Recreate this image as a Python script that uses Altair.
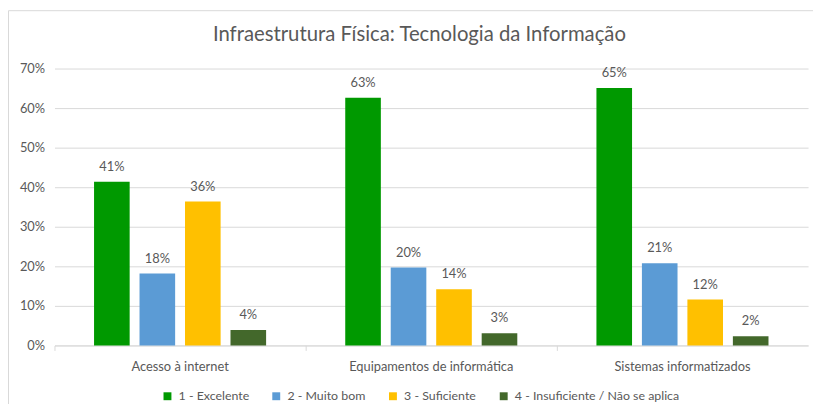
import altair as alt
import pandas as pd

categories = ["Acesso à internet", "Equipamentos de informática", "Sistemas informatizados"]
series = ["1 - Excelente", "2 - Muito bom", "3 - Suficiente", "4 - Insuficiente / Não se aplica"]
excelente = [0.414, 0.626, 0.651]
muito_bom = [0.182, 0.197, 0.208]
suficiente = [0.364, 0.142, 0.116]
insuficiente = [0.039, 0.031, 0.023]
colors = ["#009900", "#5B9BD5", "#FFC000", "#43682B"]

rows = []
for s, vals in zip(series, [excelente, muito_bom, suficiente, insuficiente]):
    for c, v in zip(categories, vals):
        rows.append({"categoria": c, "serie": s, "valor": v})
df = pd.DataFrame(rows)

FONT = "Lato"
GRAY = "#595959"

x = alt.X("categoria:N", sort=categories, title=None,
          scale=alt.Scale(paddingInner=0, paddingOuter=0),
          axis=alt.Axis(bandPosition=0, labelAngle=0, grid=False))
xoff = alt.XOffset("serie:N", sort=series,
                   scale=alt.Scale(paddingInner=0.217, paddingOuter=0.87))
y = alt.Y("valor:Q", title=None, scale=alt.Scale(domain=[0, 0.7]),
          axis=alt.Axis(format=".0%", tickCount=7, domain=False, ticks=False))

base = alt.Chart(df)

bars = base.mark_bar().encode(
    x=x, xOffset=xoff, y=y,
    color=alt.Color("serie:N", sort=series, title=None,
                    scale=alt.Scale(domain=series, range=colors),
                    legend=alt.Legend(orient="none", direction="horizontal",
                                      legendX=108, legendY=325, columns=4)),
)

labels = base.mark_text(baseline="bottom", dy=-8, fontSize=13, color=GRAY, font=FONT).encode(
    x=x, xOffset=xoff, y=y,
    text=alt.Text("valor:Q", format=".0%"),
)

border = alt.Chart(pd.DataFrame({"k": [0]})).mark_rect(
    fill="transparent", stroke="#D9D9D9", strokeWidth=1
).encode(x=alt.value(-46.5), x2=alt.value(900), y=alt.value(-58.5), y2=alt.value(600))

chart = alt.layer(border, bars, labels).properties(
    width=762, height=280,
    autosize=alt.AutoSizeParams(type="none"),
    padding={"left": 47, "top": 59, "right": 5, "bottom": 57},
    title=alt.TitleParams("Infraestrutura Física: Tecnologia da Informação",
                          fontSize=20.5, font=FONT, fontWeight="normal", color=GRAY,
                          anchor="middle", dx=-12, offset=-36),
).configure_view(stroke=None).configure_axis(
    labelFont=FONT, labelFontSize=13, labelColor=GRAY,
    gridColor="#D9D9D9", domainColor="#D9D9D9", tickColor="#D9D9D9",
).configure_axisX(
    tickSize=5, labelPadding=10,
).configure_axisY(
    labelPadding=10,
).configure_legend(
    labelFont=FONT, labelFontSize=12.5, labelColor=GRAY, labelLimit=400,
    symbolType="square", symbolSize=64, symbolStrokeWidth=0,
    columnPadding=21, labelOffset=5, padding=0,
)

chart.save("out.html", embed_options={"renderer": "svg", "actions": False})
